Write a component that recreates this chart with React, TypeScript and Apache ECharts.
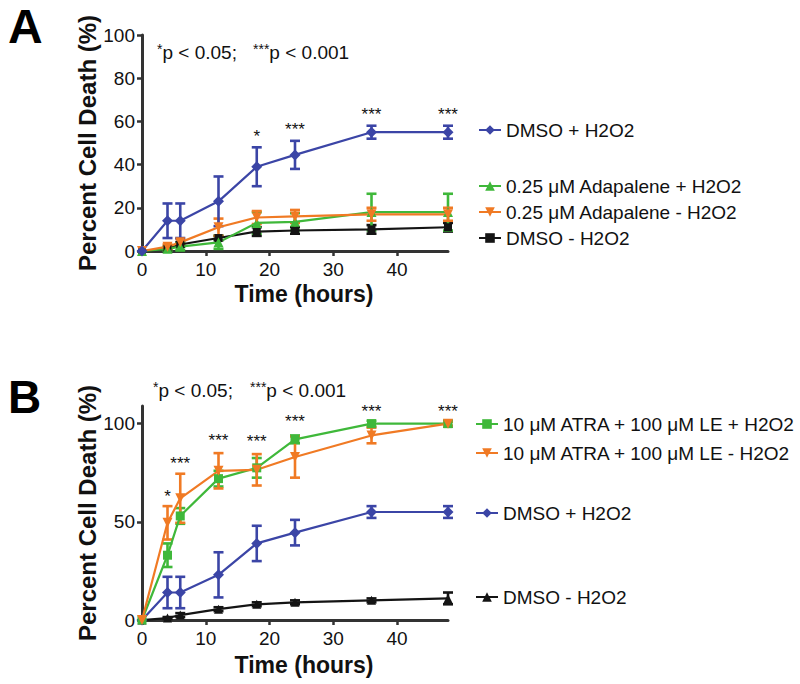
import React, { useEffect, useRef } from 'react';
import * as echarts from 'echarts';

const hours = [0, 4, 6, 12, 18, 24, 36, 48];
const xTicks = [0, 10, 20, 30, 40];

// Panel A
const aDmsoPlus = [0, 14, 14, 23, 39, 44.5, 55, 55];
const aDmsoPlusErr = [0, 8, 8, 11.5, 9, 6.5, 3, 3];
const aAdaPlus = [0, 1, 2, 4, 13, 13.5, 18, 18];
const aAdaPlusErr = [0, 1, 1.5, 3, 5, 4, 8.5, 8.5];
const aAdaMinus = [0, 2, 4, 11, 15.5, 16, 17, 17];
const aAdaMinusErr = [0, 1, 1.5, 4, 3, 3, 3, 3];
const aDmsoMinus = [0, 1, 3, 6, 9, 9.5, 10, 11];
const aDmsoMinusErr = [0, 0.5, 1, 1, 2, 1.5, 2, 2];
const aStarHours = [18, 24, 36, 48];
const aStarLevels = [55, 58, 65, 65];
const aStarMarks = ['*', '***', '***', '***'];
const aYTicks = [0, 20, 40, 60, 80, 100];

// Panel B
const bAtraPlus = [0, 33, 53, 72, 77.5, 92, 100, 100];
const bAtraPlusErr = [0, 6, 4, 4, 5, 2, 1.5, 1.5];
const bAtraMinus = [0, 49.5, 62, 76, 76.5, 83, 94, 100];
const bAtraMinusErr = [0, 8.5, 12.5, 9, 8, 10.5, 4, 1];
const bDmsoPlus = [0, 14, 14, 23, 39, 44.5, 55, 55];
const bDmsoPlusErr = [0, 8, 8, 11.5, 9, 6.5, 3, 3];
const bDmsoMinus = [0, 1, 2.5, 5.5, 8, 9, 10, 11];
const bDmsoMinusErr = [0, 0.5, 1, 1, 1, 1, 1, 3];
const bStarHours = [4, 6, 12, 18, 24, 36, 48];
const bStarLevels = [65, 82, 93.5, 93, 103, 108.3, 108.3];
const bStarMarks = ['*', '***', '***', '***', '***', '***', '***'];
const bYTicks = [0, 50, 100];

const BLUE = '#3b45a6';
const GREEN = '#3fb83a';
const ORANGE = '#f07a24';
const BLACK = '#141414';
const FONT = '"Liberation Sans", Arial, Helvetica, sans-serif';

function lineSeries(name: string, idx: number, vals: number[], color: string, symbol: string, size: number, rotate = 0) {
  return {
    type: 'line',
    name,
    xAxisIndex: idx,
    yAxisIndex: idx,
    data: hours.map((h, i) => [h, vals[i]]),
    symbol,
    symbolSize: size,
    symbolRotate: rotate,
    showAllSymbol: true,
    lineStyle: { color, width: 2.2 },
    itemStyle: { color },
    z: 3,
  };
}

function errSeries(idx: number, vals: number[], errs: number[], color: string) {
  return {
    type: 'custom',
    xAxisIndex: idx,
    yAxisIndex: idx,
    data: hours.map((h, i) => [h, vals[i], errs[i]]),
    z: 2,
    renderItem: (params: any, api: any) => {
      const x = api.value(0);
      const y = api.value(1);
      const e = api.value(2);
      if (e <= 0) return { type: 'group', children: [] };
      const top = api.coord([x, y + e]);
      const bot = api.coord([x, y - e]);
      const w = 5;
      const st = { stroke: color, lineWidth: 2.6 };
      return {
        type: 'group',
        children: [
          { type: 'line', shape: { x1: top[0], y1: top[1], x2: bot[0], y2: bot[1] }, style: st },
          { type: 'line', shape: { x1: top[0] - w, y1: top[1], x2: top[0] + w, y2: top[1] }, style: st },
          { type: 'line', shape: { x1: bot[0] - w, y1: bot[1], x2: bot[0] + w, y2: bot[1] }, style: st },
        ],
      };
    },
  };
}

function starSeries(idx: number, xs: number[], ys: number[], marks: string[]) {
  return {
    type: 'custom',
    xAxisIndex: idx,
    yAxisIndex: idx,
    data: xs.map((x, i) => [x, ys[i], marks[i]]),
    z: 5,
    renderItem: (params: any, api: any) => {
      const p = api.coord([api.value(0), api.value(1)]);
      return {
        type: 'text',
        style: {
          text: marks[params.dataIndex],
          x: p[0],
          y: p[1] + 4,
          align: 'center',
          verticalAlign: 'middle',
          fontSize: 17,
          fontFamily: FONT,
          fill: '#111',
        },
      };
    },
  };
}

function xAxis(idx: number, gap: number) {
  return {
    type: 'value',
    gridIndex: idx,
    min: 0,
    max: 48,
    interval: 10,
    name: 'Time (hours)',
    nameLocation: 'middle',
    nameGap: gap,
    nameTextStyle: { fontSize: 23, fontWeight: 'bold', fontFamily: FONT, color: '#111', lineHeight: 23, padding: [0, 0, 0, 18] },
    axisLine: { show: true, lineStyle: { color: '#333', width: 3 } },
    axisTick: { show: true, length: 5, lineStyle: { color: '#333', width: 2.5 }, customValues: xTicks },
    axisLabel: { fontSize: 19, color: '#111', fontFamily: FONT, margin: 9, customValues: xTicks },
    splitLine: { show: false },
  };
}

function yAxis(idx: number, max: number, interval: number, ticks: number[]) {
  return {
    type: 'value',
    gridIndex: idx,
    min: 0,
    max,
    interval,
    name: 'Percent Cell Death (%)',
    nameLocation: 'middle',
    nameGap: 42,
    nameTextStyle: { fontSize: 24, fontWeight: 'bold', fontFamily: FONT, color: '#111', lineHeight: 24 },
    axisLine: { show: true, lineStyle: { color: '#333', width: 3 } },
    axisTick: { show: true, length: 5, lineStyle: { color: '#333', width: 2.5 }, customValues: ticks },
    axisLabel: { fontSize: 19, color: '#111', fontFamily: FONT, margin: 7, customValues: ticks },
    splitLine: { show: false },
  };
}

function legendItem(name: string, left: number, centerY: number) {
  return {
    data: [name],
    left,
    top: centerY - 10,
    padding: 0,
    itemWidth: 22,
    itemHeight: 12,
    selectedMode: false,
    formatter: (n: string) => n.replace(/^[AB]: /, ''),
    textStyle: { fontSize: 19, lineHeight: 20, color: '#111', fontFamily: FONT },
  };
}

const annotation = (left: number, cy: number) => ({
  type: 'text',
  left,
  top: cy - 10,
  style: {
    text: '{s|*}{t|p < 0.05;}',
    rich: {
      s: { fontSize: 14, fontFamily: FONT, fill: '#111', verticalAlign: 'top', lineHeight: 20 },
      t: { fontSize: 19, fontFamily: FONT, fill: '#111', lineHeight: 20 },
    },
  },
});
const annotation2 = (left: number, cy: number) => ({
  type: 'text',
  left,
  top: cy - 10,
  style: {
    text: '{s|***}{t|p < 0.001}',
    rich: {
      s: { fontSize: 14, fontFamily: FONT, fill: '#111', verticalAlign: 'top', lineHeight: 20 },
      t: { fontSize: 19, fontFamily: FONT, fill: '#111', lineHeight: 20 },
    },
  },
});

export default function App() {
  const ref = useRef<HTMLDivElement>(null);
  useEffect(() => {
    if (!ref.current) return;
    const chart = echarts.init(ref.current, null, { renderer: 'svg' });
    const option: any = {
      animation: false,
      backgroundColor: '#fff',
      textStyle: { fontFamily: FONT, color: '#111' },
      grid: [
        { left: 142, top: 35, width: 306, height: 216 },
        { left: 142, top: 406, width: 306, height: 214 },
      ],
      xAxis: [xAxis(0, 31), xAxis(1, 33)],
      yAxis: [yAxis(0, 100, 20, aYTicks), yAxis(1, 109, 50, bYTicks)],
      legend: [
        legendItem('A: DMSO + H2O2', 478, 130),
        legendItem('A: 0.25 μM Adapalene + H2O2', 478, 186),
        legendItem('A: 0.25 μM Adapalene - H2O2', 478, 212),
        legendItem('A: DMSO - H2O2', 478, 238),
        legendItem('B: 10 μM ATRA + 100 μM LE + H2O2', 475, 424),
        legendItem('B: 10 μM ATRA + 100 μM LE - H2O2', 475, 453),
        legendItem('B: DMSO + H2O2', 475, 513),
        legendItem('B: DMSO - H2O2', 475, 597),
      ],
      graphic: [
        { type: 'text', left: 8, top: 2, style: { text: 'A', fontSize: 48, lineHeight: 44, fontWeight: 'bold', fontFamily: FONT, fill: '#000' } },
        { type: 'text', left: 8, top: 374, style: { text: 'B', fontSize: 46, lineHeight: 44, fontWeight: 'bold', fontFamily: FONT, fill: '#000' } },
        annotation(157, 52),
        annotation2(253, 52),
        annotation(153, 390),
        annotation2(250, 390),
      ],
      series: [
        errSeries(0, aDmsoMinus, aDmsoMinusErr, BLACK),
        errSeries(0, aAdaPlus, aAdaPlusErr, GREEN),
        errSeries(0, aAdaMinus, aAdaMinusErr, ORANGE),
        errSeries(0, aDmsoPlus, aDmsoPlusErr, BLUE),
        lineSeries('A: DMSO - H2O2', 0, aDmsoMinus, BLACK, 'rect', 8),
        lineSeries('A: 0.25 μM Adapalene + H2O2', 0, aAdaPlus, GREEN, 'triangle', 10),
        lineSeries('A: 0.25 μM Adapalene - H2O2', 0, aAdaMinus, ORANGE, 'triangle', 10, 180),
        lineSeries('A: DMSO + H2O2', 0, aDmsoPlus, BLUE, 'diamond', 11),
        starSeries(0, aStarHours, aStarLevels, aStarMarks),

        errSeries(1, bDmsoMinus, bDmsoMinusErr, BLACK),
        errSeries(1, bDmsoPlus, bDmsoPlusErr, BLUE),
        errSeries(1, bAtraPlus, bAtraPlusErr, GREEN),
        errSeries(1, bAtraMinus, bAtraMinusErr, ORANGE),
        lineSeries('B: DMSO - H2O2', 1, bDmsoMinus, BLACK, 'triangle', 9),
        lineSeries('B: DMSO + H2O2', 1, bDmsoPlus, BLUE, 'diamond', 11),
        lineSeries('B: 10 μM ATRA + 100 μM LE + H2O2', 1, bAtraPlus, GREEN, 'rect', 9),
        lineSeries('B: 10 μM ATRA + 100 μM LE - H2O2', 1, bAtraMinus, ORANGE, 'triangle', 10, 180),
        starSeries(1, bStarHours, bStarLevels, bStarMarks),
      ],
    };
    chart.setOption(option);
    return () => chart.dispose();
  }, []);
  return <div ref={ref} style={{ position: 'fixed', left: 0, top: 0, width: 800, height: 684, background: '#fff' }} />;
}
